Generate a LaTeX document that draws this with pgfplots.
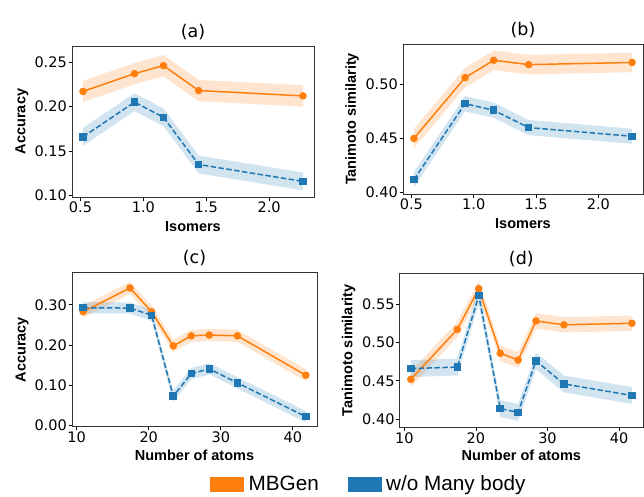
\documentclass[border=0pt]{standalone}
\usepackage{pgfplots}
\pgfplotsset{compat=1.18}
\usepgfplotslibrary{fillbetween}
\usepackage{fontspec}
\setmainfont{DejaVu Sans}
\newfontfamily\lsans{Liberation Sans}
\definecolor{mbo}{HTML}{FF7F0E}
\definecolor{mbb}{HTML}{1F77B4}

% x  y  lo  hi
\pgfplotstableread{
x y lo hi
0.52 0.217 0.205 0.229
0.93 0.237 0.225 0.249
1.16 0.246 0.234 0.258
1.44 0.218 0.206 0.230
2.27 0.212 0.200 0.224
}\aorange
\pgfplotstableread{
x y lo hi
0.52 0.166 0.156 0.176
0.93 0.205 0.195 0.215
1.16 0.188 0.178 0.198
1.44 0.135 0.125 0.145
2.27 0.116 0.106 0.126
}\ablue
\pgfplotstableread{
x y lo hi
0.52 0.450 0.441 0.459
0.93 0.506 0.497 0.515
1.16 0.522 0.513 0.531
1.44 0.518 0.509 0.527
2.27 0.520 0.511 0.529
}\borange
\pgfplotstableread{
x y lo hi
0.52 0.412 0.405 0.419
0.93 0.482 0.475 0.489
1.16 0.476 0.469 0.483
1.44 0.460 0.453 0.467
2.27 0.452 0.445 0.459
}\bblue
\pgfplotstableread{
x y lo hi
10.9 0.283 0.268 0.298
17.4 0.342 0.327 0.357
20.4 0.283 0.268 0.298
23.4 0.198 0.183 0.213
25.9 0.223 0.208 0.238
28.4 0.225 0.210 0.240
32.3 0.223 0.208 0.238
41.8 0.125 0.110 0.140
}\corange
\pgfplotstableread{
x y lo hi
10.9 0.293 0.279 0.307
17.4 0.292 0.278 0.306
20.4 0.274 0.260 0.288
23.4 0.073 0.059 0.087
25.9 0.129 0.115 0.143
28.4 0.141 0.127 0.155
32.3 0.106 0.092 0.120
41.8 0.022 0.008 0.036
}\cblue
\pgfplotstableread{
x y lo hi
10.9 0.452 0.442 0.462
17.4 0.517 0.507 0.527
20.4 0.570 0.560 0.580
23.4 0.486 0.476 0.496
25.9 0.477 0.467 0.487
28.4 0.528 0.518 0.538
32.3 0.523 0.513 0.533
41.8 0.525 0.515 0.535
}\dorange
\pgfplotstableread{
x y lo hi
10.9 0.466 0.455 0.477
17.4 0.468 0.457 0.479
20.4 0.561 0.550 0.572
23.4 0.414 0.403 0.425
25.9 0.409 0.398 0.420
28.4 0.476 0.465 0.487
32.3 0.446 0.435 0.457
41.8 0.431 0.420 0.442
}\dblue

\pgfplotsset{
  panel/.style={
    scale only axis, clip=false,
    tick align=outside, tick pos=left, major tick length=3.5pt,
    axis line style={black!80, line width=0.8pt},
    tick style={black, line width=0.8pt},
    ticklabel style={font=\fontsize{14.5}{15}\selectfont, inner sep=1.5pt},
    /pgf/number format/assume math mode=true,
    title style={font=\fontsize{17.5}{18}\selectfont, yshift=-3pt},
    label style={font=\lsans\bfseries\fontsize{14.5}{15}\selectfont},
    scaled ticks=false,
    yticklabel style={/pgf/number format/.cd, fixed, fixed zerofill, precision=2},
  },
  isox/.style={xmin=0.4325, xmax=2.3575, xtick={0.5,1,1.5,2},
    xticklabel style={/pgf/number format/.cd, fixed, fixed zerofill, precision=1},
    xlabel={Isomers}},
  atomx/.style={xmin=9.35, xmax=43.35, xtick={10,20,30,40},
    xlabel={Number of atoms}},
  oline/.style={mbo, line width=1.5pt, mark=*, mark size=3pt},
  bline/.style={mbb, line width=1.5pt, dash pattern=on 5.5pt off 2.4pt,
    mark=square*, mark size=3pt, mark options={solid}},
  band/.style={fill=#1, fill opacity=0.2, draw=none},
}

\begin{document}
\begin{tikzpicture}

% (a)
\begin{axis}[panel, isox, at={(72pt,-46pt)}, anchor=north west,
  width=242pt, height=151pt, ymin=0.0985, ymax=0.268,
  ytick={0.10,0.15,0.20,0.25}, title={(a)}, ylabel={Accuracy},
  ylabel style={at={(axis description cs:-0.2066,0.5)}, anchor=center},
  xlabel style={at={(axis description cs:0.5,-0.199)}, anchor=center}]
\addplot[name path=aol, draw=none] table[x=x,y=lo] {\aorange};
\addplot[name path=aoh, draw=none] table[x=x,y=hi] {\aorange};
\addplot[band=mbo] fill between[of=aol and aoh];
\addplot[name path=abl, draw=none] table[x=x,y=lo] {\ablue};
\addplot[name path=abh, draw=none] table[x=x,y=hi] {\ablue};
\addplot[band=mbb] fill between[of=abl and abh];
\addplot[oline] table[x=x,y=y] {\aorange};
\addplot[bline] table[x=x,y=y] {\ablue};
\end{axis}

% (b)
\begin{axis}[panel, isox, at={(403pt,-44pt)}, anchor=north west,
  width=240pt, height=150pt, ymin=0.3988, ymax=0.537,
  ytick={0.40,0.45,0.50}, title={(b)}, ylabel={Tanimoto similarity},
  ylabel style={at={(axis description cs:-0.2125,0.5)}, anchor=center},
  xlabel style={at={(axis description cs:0.5,-0.2)}, anchor=center}]
\addplot[name path=bol, draw=none] table[x=x,y=lo] {\borange};
\addplot[name path=boh, draw=none] table[x=x,y=hi] {\borange};
\addplot[band=mbo] fill between[of=bol and boh];
\addplot[name path=bbl, draw=none] table[x=x,y=lo] {\bblue};
\addplot[name path=bbh, draw=none] table[x=x,y=hi] {\bblue};
\addplot[band=mbb] fill between[of=bbl and bbh];
\addplot[oline] table[x=x,y=y] {\borange};
\addplot[bline] table[x=x,y=y] {\bblue};
\end{axis}

% (c)
\begin{axis}[panel, atomx, at={(72pt,-272.7pt)}, anchor=north west,
  width=245pt, height=154pt, ymin=-0.003, ymax=0.38,
  ytick={0,0.1,0.2,0.3}, title={(c)}, ylabel={Accuracy},
  ylabel style={at={(axis description cs:-0.204,0.5)}, anchor=center},
  xlabel style={at={(axis description cs:0.5,-0.184)}, anchor=center},
  legend columns=2,
  legend style={draw=none, fill=none, inner sep=0pt,
    at={(axis description cs:0.5633,-0.37)}, anchor=west,
    nodes={inner sep=0pt, font=\lsans\fontsize{20.7}{22}\selectfont},
    /tikz/every odd column/.append style={column sep=5pt},
    /tikz/every even column/.append style={column sep=29pt}}]
\addlegendimage{legend image code/.code={\fill[mbo] (0pt,-7pt) rectangle (33pt,7pt);}}
\addlegendentry{MBGen}
\addlegendimage{legend image code/.code={\fill[mbb] (0pt,-7pt) rectangle (33pt,7pt);}}
\addlegendentry{w/o Many body}
\addplot[name path=col, draw=none] table[x=x,y=lo] {\corange};
\addplot[name path=coh, draw=none] table[x=x,y=hi] {\corange};
\addplot[band=mbo] fill between[of=col and coh];
\addplot[name path=cbl, draw=none] table[x=x,y=lo] {\cblue};
\addplot[name path=cbh, draw=none] table[x=x,y=hi] {\cblue};
\addplot[band=mbb] fill between[of=cbl and cbh];
\addplot[oline] table[x=x,y=y] {\corange};
\addplot[bline] table[x=x,y=y] {\cblue};
\end{axis}

% (d)
\begin{axis}[panel, atomx, at={(399.7pt,-273.3pt)}, anchor=north west,
  width=243.3pt, height=154pt, ymin=0.3896, ymax=0.590,
  ytick={0.40,0.45,0.50,0.55}, title={(d)}, ylabel={Tanimoto similarity},
  ylabel style={at={(axis description cs:-0.2096,0.5)}, anchor=center},
  xlabel style={at={(axis description cs:0.5,-0.18)}, anchor=center}]
\addplot[name path=dol, draw=none] table[x=x,y=lo] {\dorange};
\addplot[name path=doh, draw=none] table[x=x,y=hi] {\dorange};
\addplot[band=mbo] fill between[of=dol and doh];
\addplot[name path=dbl, draw=none] table[x=x,y=lo] {\dblue};
\addplot[name path=dbh, draw=none] table[x=x,y=hi] {\dblue};
\addplot[band=mbb] fill between[of=dbl and dbh];
\addplot[oline] table[x=x,y=y] {\dorange};
\addplot[bline] table[x=x,y=y] {\dblue};
\end{axis}

\path (0pt,0pt) rectangle (644pt,-496pt);
\end{tikzpicture}
\end{document}
